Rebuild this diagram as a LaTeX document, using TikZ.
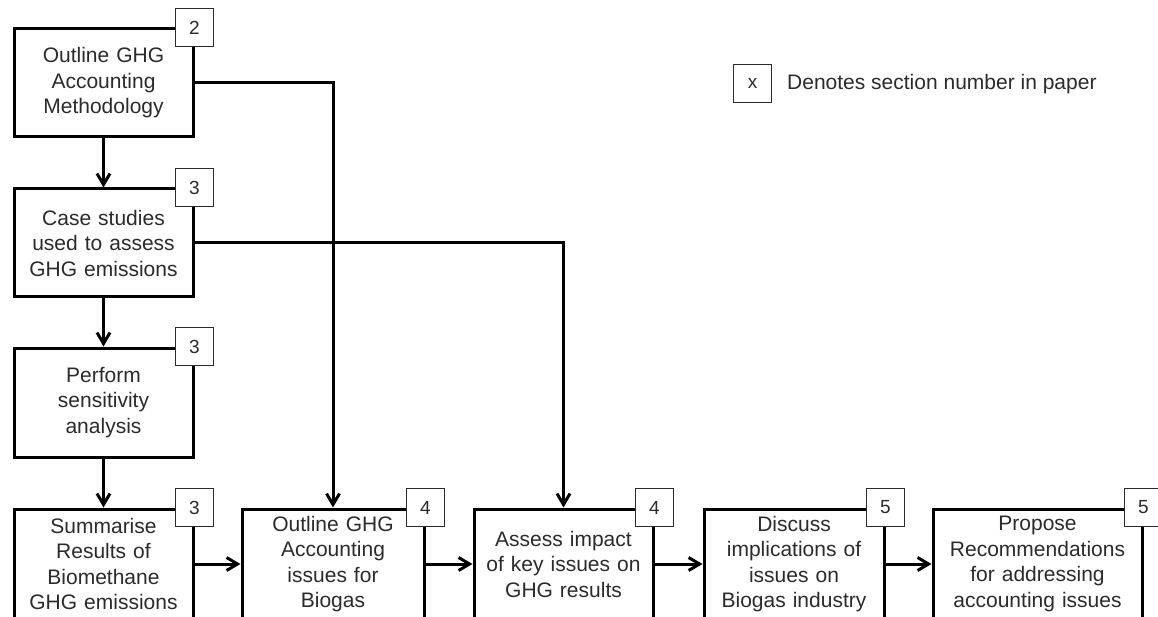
\documentclass[tikz,border=0pt]{standalone}
\usepackage{fontspec}
\setmainfont{Liberation Sans}
\usetikzlibrary{arrows.meta}
\definecolor{txt}{HTML}{2B2B2B}
\begin{document}
\begin{tikzpicture}[x=1pt,y=-1pt,
  stepbox/.style={draw=black, line width=3pt, fill=white, inner sep=0pt,
    minimum height=109pt, text width=172pt, align=center, text=txt,
    font=\fontsize{21}{25.5}\selectfont},
  badge/.style={draw=txt, line width=1.5pt, fill=white, inner sep=0pt,
    minimum width=38pt, minimum height=38pt, text=txt,
    font=\fontsize{19}{22}\selectfont},
  conn/.style={line width=3pt, draw=black},
  arr/.style={conn, -{Straight Barb[length=11pt, width=13pt, line width=3pt]}}]
\useasboundingbox (0,0) rectangle (1158,617);
\clip (0,0) rectangle (1158,617);
\node[stepbox, minimum width=179pt, minimum height=108pt] (b1) at (103.5,83) {Outline GHG\\Accounting\\Methodology};
\node[stepbox, minimum width=179pt, minimum height=108pt] (b2) at (103.5,243) {Case studies\\used to assess\\GHG emissions};
\node[stepbox, minimum width=179pt] (b3) at (103.5,402.5) {Perform\\sensitivity\\analysis};
\node[stepbox, minimum width=179pt, minimum height=110pt] (b4) at (103.5,564) {Summarise\\Results of\\Biomethane\\GHG emissions};
\node[stepbox, minimum width=182pt, minimum height=110pt] (b5) at (333,564) {Outline GHG\\Accounting\\issues for\\Biogas};
\node[stepbox, minimum width=179pt, minimum height=110pt] (b6) at (563.5,564) {Assess impact\\of key issues on\\GHG results};
\node[stepbox, minimum width=180pt, minimum height=110pt] (b7) at (794,564) {Discuss\\implications of\\issues on\\Biogas industry};
\node[stepbox, minimum width=209pt, minimum height=110pt, text width=205pt] (b8) at (1037.5,564) {Propose\\Recommendations\\for addressing\\accounting issues};

\draw[arr] (b1.south) -- (b2.north);
\draw[arr] (b2.south) -- (b3.north);
\draw[arr] (b3.south) -- (b4.north);
\draw[arr] (b4.east) -- (b5.west);
\draw[arr] (b5.east) -- (b6.west);
\draw[arr] (b6.east) -- (b7.west);
\draw[arr] (b7.east) -- (b8.west);
\draw[arr] (b1.east) -| (b5.north);
\draw[arr] (b2.east) -| (b6.north);

\node[badge] (s1) at (b1.north east) {2};
\node[badge] (s2) at (b2.north east) {3};
\node[badge] (s3) at (b3.north east) {3};
\node[badge] (s4) at (b4.north east) {3};
\node[badge] (s5) at (b5.north east) {4};
\node[badge] (s6) at (b6.north east) {4};
\node[badge] (s7) at (b7.north east) {5};
\node[badge] (s8) at (b8.north east) {5};

\node[badge] (lx) at (752.5,83.5) {x};
\node[anchor=west, inner sep=0pt, text=txt, font=\fontsize{21}{25.5}\selectfont] (lt) at (787,84) {Denotes section number in paper};
\end{tikzpicture}
\end{document}
